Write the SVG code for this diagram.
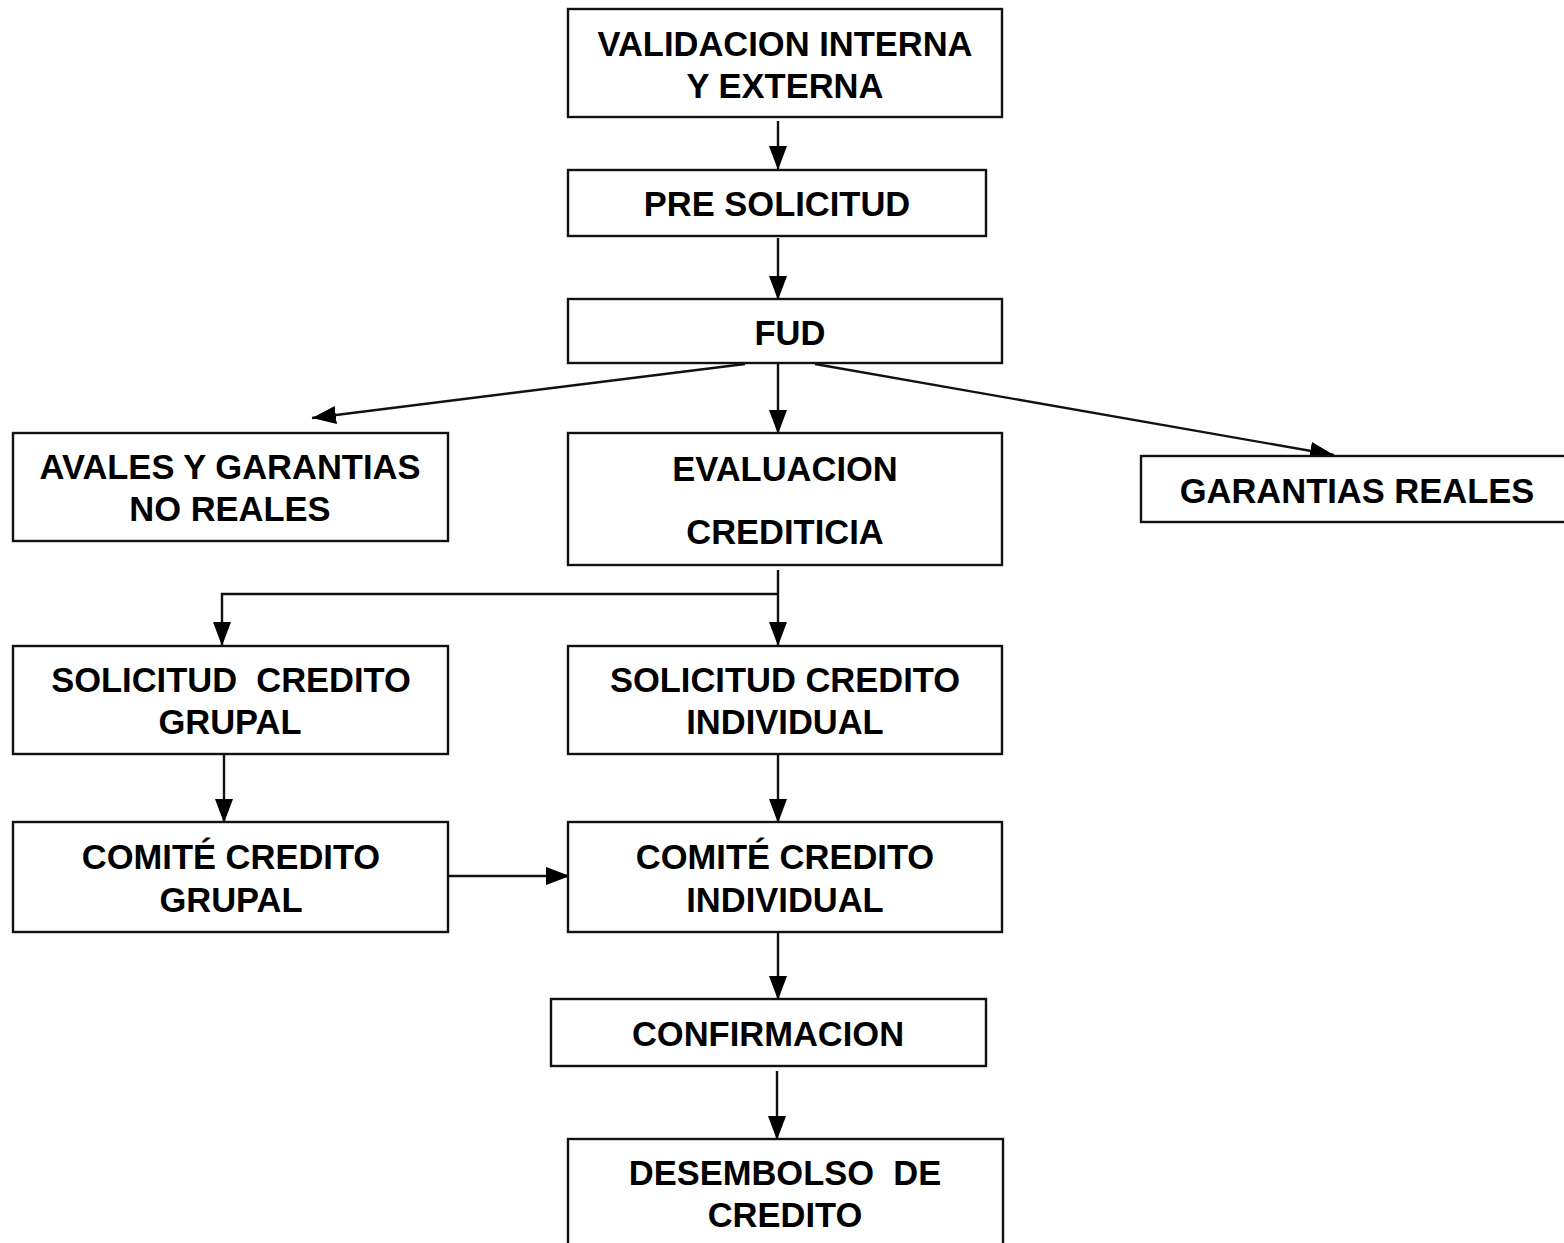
<svg xmlns="http://www.w3.org/2000/svg" width="1564" height="1243" viewBox="0 0 1564 1243">
<style>
.box{fill:#fff;stroke:#111;stroke-width:2.4}
.t{font-family:"Liberation Sans",Arial,sans-serif;font-weight:bold;font-size:34.5px;fill:#000;text-anchor:middle;dominant-baseline:central}
.c{fill:none;stroke:#111;stroke-width:2.4}
</style>
<defs>
<marker id="ah" markerUnits="userSpaceOnUse" markerWidth="26" markerHeight="22" refX="24" refY="11" orient="auto">
<path d="M0,2 L24,11 L0,20 Z" fill="#000"/>
</marker>
</defs>
<rect width="1564" height="1243" fill="#fff"/>
<g id="connectors">
<line class="c" x1="778" y1="121" x2="778" y2="170" marker-end="url(#ah)"/>
<line class="c" x1="778" y1="238" x2="778" y2="300" marker-end="url(#ah)"/>
<line class="c" x1="745" y1="364" x2="312" y2="418" marker-end="url(#ah)"/>
<line class="c" x1="778" y1="364" x2="778" y2="434" marker-end="url(#ah)"/>
<line class="c" x1="815" y1="364" x2="1334" y2="455" marker-end="url(#ah)"/>
<line class="c" x1="778" y1="570" x2="778" y2="646" marker-end="url(#ah)"/>
<polyline class="c" points="778,594 222,594 222,646" marker-end="url(#ah)"/>
<line class="c" x1="224" y1="754" x2="224" y2="823" marker-end="url(#ah)"/>
<line class="c" x1="778" y1="754" x2="778" y2="823" marker-end="url(#ah)"/>
<line class="c" x1="448" y1="876" x2="570" y2="876" marker-end="url(#ah)"/>
<line class="c" x1="778" y1="932" x2="778" y2="1000" marker-end="url(#ah)"/>
<line class="c" x1="777" y1="1071" x2="777" y2="1140" marker-end="url(#ah)"/>
</g>
<g id="validacion"><rect class="box" x="568" y="9" width="434" height="108"/><text class="t" x="785" y="44">VALIDACION INTERNA</text><text class="t" x="785" y="86">Y EXTERNA</text></g>
<g id="presolicitud"><rect class="box" x="568" y="170" width="418" height="66"/><text class="t" x="777" y="204">PRE SOLICITUD</text></g>
<g id="fud"><rect class="box" x="568" y="299" width="434" height="64"/><text class="t" x="790" y="333">FUD</text></g>
<g id="avales"><rect class="box" x="13" y="433" width="435" height="108"/><text class="t" x="230" y="467">AVALES Y GARANTIAS</text><text class="t" x="230" y="509">NO REALES</text></g>
<g id="evaluacion"><rect class="box" x="568" y="433" width="434" height="132"/><text class="t" x="785" y="469">EVALUACION</text><text class="t" x="785" y="532">CREDITICIA</text></g>
<g id="garantias"><rect class="box" x="1141" y="456" width="430" height="66"/><text class="t" x="1357" y="491">GARANTIAS REALES</text></g>
<g id="solgrupal"><rect class="box" x="13" y="646" width="435" height="108"/><text class="t" x="231" y="680" xml:space="preserve">SOLICITUD  CREDITO</text><text class="t" x="230" y="722">GRUPAL</text></g>
<g id="solindividual"><rect class="box" x="568" y="646" width="434" height="108"/><text class="t" x="785" y="680">SOLICITUD CREDITO</text><text class="t" x="785" y="722">INDIVIDUAL</text></g>
<g id="comitegrupal"><rect class="box" x="13" y="822" width="435" height="110"/><text class="t" x="231" y="857">COMITÉ CREDITO</text><text class="t" x="231" y="900">GRUPAL</text></g>
<g id="comiteindividual"><rect class="box" x="568" y="822" width="434" height="110"/><text class="t" x="785" y="857">COMITÉ CREDITO</text><text class="t" x="785" y="900">INDIVIDUAL</text></g>
<g id="confirmacion"><rect class="box" x="551" y="999" width="435" height="67"/><text class="t" x="768" y="1034">CONFIRMACION</text></g>
<g id="desembolso"><rect class="box" x="568" y="1139" width="435" height="120"/><text class="t" x="785" y="1173" xml:space="preserve">DESEMBOLSO  DE</text><text class="t" x="785" y="1215">CREDITO</text></g>
</svg>
